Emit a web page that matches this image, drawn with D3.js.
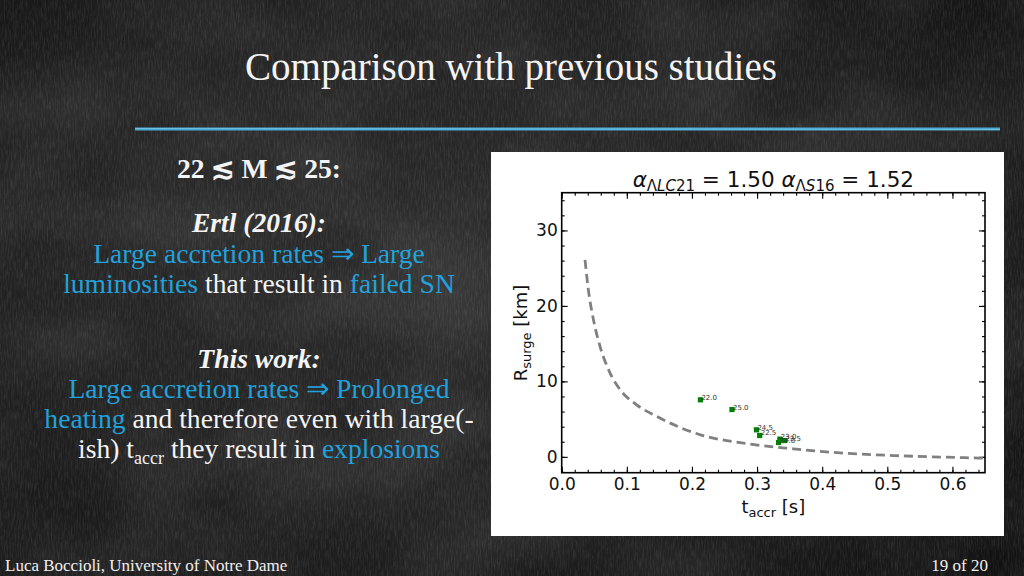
<!DOCTYPE html>
<html>
<head>
<meta charset="utf-8">
<script src="https://cdn.jsdelivr.net/npm/d3@7"></script>
<style>
html,body{margin:0;padding:0;background:#222;}
svg{display:block;}
</style>
</head>
<body>
<svg id="c" width="1024" height="576"></svg>
<script>
// ---------- data ----------
const masses = ["22.0","25.0","24.5","22.5","23.0","23.5","24.0"];
const tAccr  = [0.213, 0.2615, 0.299, 0.304, 0.335, 0.342, 0.333];
const rSurge = [7.56, 6.27, 3.58, 2.83, 2.35, 2.16, 1.90];

const fitT = [0.0358,0.041,0.0487,0.059,0.0743,0.0897,0.115,0.146,0.213,0.279,0.356,0.433,0.51,0.587,0.643,0.65];
const fitR = [26.1,22.1,18.2,14.6,11.1,8.9,6.9,5.35,2.92,1.82,1.06,0.49,0.17,-0.04,-0.17,-0.19];

const xMajor = [0,0.1,0.2,0.3,0.4,0.5,0.6];
const yMajor = [0,10,20,30];
const xMinor = d3.range(0,0.651,0.02);
const yMinor = d3.range(-2,35.1,2);

// ---------- slide ----------
const svg = d3.select("#c");
const defs = svg.append("defs");
const rg = defs.append("radialGradient").attr("id","vig").attr("cx","45%").attr("cy","45%").attr("r","75%");
rg.append("stop").attr("offset","0%").attr("stop-color","#2c2c2c");
rg.append("stop").attr("offset","60%").attr("stop-color","#222222");
rg.append("stop").attr("offset","100%").attr("stop-color","#111111");
const f = defs.append("filter").attr("id","chalk").attr("x",0).attr("y",0).attr("width","100%").attr("height","100%");
f.append("feTurbulence").attr("type","fractalNoise").attr("baseFrequency","0.7 0.1").attr("numOctaves",3).attr("seed",4);
f.append("feColorMatrix").attr("values","0 0 0 0 1  0 0 0 0 1  0 0 0 0 1  0.9 0 0 0 -0.35");
const f2 = defs.append("filter").attr("id","blot").attr("x",0).attr("y",0).attr("width","100%").attr("height","100%");
f2.append("feTurbulence").attr("type","fractalNoise").attr("baseFrequency","0.008 0.012").attr("numOctaves",2).attr("seed",9);
f2.append("feColorMatrix").attr("values","0 0 0 0 1  0 0 0 0 1  0 0 0 0 1  0.6 0 0 0 -0.22");

svg.append("rect").attr("width",1024).attr("height",576).attr("fill","url(#vig)");
svg.append("rect").attr("width",1024).attr("height",576).attr("filter","url(#blot)").attr("opacity",0.25);
svg.append("rect").attr("width",1024).attr("height",576).attr("filter","url(#chalk)").attr("opacity",0.2);

// title
svg.append("text").attr("x",511).attr("y",80).attr("text-anchor","middle")
  .style("font-family","'Liberation Serif','Times New Roman',serif").style("font-size","39px").attr("fill","#f4f4f4")
  .text("Comparison with previous studies");
// chalk underline
svg.append("line").attr("x1",135).attr("x2",1000).attr("y1",129).attr("y2",129)
  .attr("stroke","#4fb6e2").attr("stroke-width",3).attr("opacity",0.9);
svg.append("line").attr("x1",135).attr("x2",1000).attr("y1",128.5).attr("y2",129.5)
  .attr("stroke","#8fd3f0").attr("stroke-width",1).attr("opacity",0.5);

// left text
const BLUE = "#22a2dc", WHITE = "#f4f4f4";
const serif = "'Liberation Serif','Times New Roman',serif";
const lines = [
  {y:178, bold:true, segs:[["22 ≲ M ≲ 25:",WHITE]]},
  {y:232, bold:true, italic:true, segs:[["Ertl (2016):",WHITE]]},
  {y:263, segs:[["Large accretion rates ⇒ Large",BLUE]]},
  {y:293, segs:[["luminosities",BLUE],[" that result in ",WHITE],["failed SN",BLUE]]},
  {y:368, bold:true, italic:true, segs:[["This work:",WHITE]]},
  {y:398, segs:[["Large accretion rates ⇒ Prolonged",BLUE]]},
  {y:428, segs:[["heating",BLUE],[" and therefore even with large(-",WHITE]]},
  {y:458, segs:[["ish) t",WHITE],["accr",WHITE,"sub"],[" they result in ",WHITE],["explosions",BLUE]]}
];
lines.forEach(l=>{
  const t = svg.append("text").attr("x",259).attr("y",l.y).attr("text-anchor","middle")
    .style("font-family",serif).style("font-size","27.6px")
    .style("font-weight",l.bold?"bold":"normal").style("font-style",l.italic?"italic":"normal");
  l.segs.forEach((s,i)=>{
    const ts = t.append("tspan").attr("fill",s[1]).text(s[0]);
    if(s[2]==="sub"){ ts.style("font-size","18px").attr("dy",6); }
    else if(i>0 && l.segs[i-1][2]==="sub"){ ts.attr("dy",-6); }
  });
});

// footer
svg.append("text").attr("x",5).attr("y",571).style("font-family",serif).style("font-size","17px")
  .attr("fill","#f0f0f0").text("Luca Boccioli, University of Notre Dame");
svg.append("text").attr("x",988).attr("y",571).attr("text-anchor","end").style("font-family",serif).style("font-size","17px")
  .attr("fill","#f0f0f0").text("19 of 20");

// ---------- chart panel ----------
svg.append("rect").attr("x",491).attr("y",152).attr("width",513).attr("height",384).attr("fill","#ffffff");

const L=561.7, R=985, T=192.7, B=472.7;
const x = d3.scaleLinear().domain([0,0.65]).range([L,R]);
const y = d3.scaleLinear().domain([-2.1,35]).range([B,T]);
const g = svg.append("g");
const sans = "'DejaVu Sans',sans-serif";

function styleAxis(sel){
  sel.select(".domain").remove();
  sel.selectAll("line").attr("stroke","#000").attr("stroke-width",1.1);
  sel.selectAll("text").style("font-family",sans).style("font-size","17px").attr("fill","#111");
}
// minor ticks
g.append("g").attr("transform",`translate(0,${B})`).call(d3.axisBottom(x).tickValues(xMinor).tickSize(-3).tickFormat("")).call(styleAxis);
g.append("g").attr("transform",`translate(0,${T})`).call(d3.axisTop(x).tickValues(xMinor).tickSize(-3).tickFormat("")).call(styleAxis);
g.append("g").attr("transform",`translate(${L},0)`).call(d3.axisLeft(y).tickValues(yMinor).tickSize(-3).tickFormat("")).call(styleAxis);
g.append("g").attr("transform",`translate(${R},0)`).call(d3.axisRight(y).tickValues(yMinor).tickSize(-3).tickFormat("")).call(styleAxis);
// major ticks
g.append("g").attr("transform",`translate(0,${B})`).call(d3.axisBottom(x).tickValues(xMajor).tickSize(-6).tickPadding(5).tickFormat(d3.format(".1f"))).call(styleAxis);
g.append("g").attr("transform",`translate(0,${T})`).call(d3.axisTop(x).tickValues(xMajor).tickSize(-6).tickFormat("")).call(styleAxis);
g.append("g").attr("transform",`translate(${L},0)`).call(d3.axisLeft(y).tickValues(yMajor).tickSize(-6).tickPadding(4).tickFormat(d3.format("d"))).call(styleAxis);
g.append("g").attr("transform",`translate(${R},0)`).call(d3.axisRight(y).tickValues(yMajor).tickSize(-6).tickFormat("")).call(styleAxis);

// fit curve
const line = d3.line().x((d,i)=>x(fitT[i])).y((d,i)=>y(fitR[i])).curve(d3.curveMonotoneX);
g.append("path").datum(fitR).attr("d",line).attr("fill","none").attr("stroke","#808080")
  .attr("stroke-width",2.8).attr("stroke-dasharray","9,5");

// points
g.selectAll("rect.pt").data(masses).enter().append("rect").attr("class","pt")
  .attr("x",(d,i)=>x(tAccr[i])-2.6).attr("y",(d,i)=>y(rSurge[i])-2.6)
  .attr("width",5.2).attr("height",5.2).attr("fill","#008000");
g.selectAll("text.lab").data(masses).enter().append("text").attr("class","lab")
  .attr("x",(d,i)=>x(tAccr[i])+1).attr("y",(d,i)=>y(rSurge[i]))
  .style("font-family",sans).style("font-size","7px").attr("fill","#333").text(d=>d);

// frame
g.append("rect").attr("x",L).attr("y",T).attr("width",R-L).attr("height",B-T)
  .attr("fill","none").attr("stroke","#000").attr("stroke-width",1.6);

// axis labels
const xl = svg.append("text").attr("x",(L+R)/2).attr("y",513).attr("text-anchor","middle")
  .style("font-family",sans).style("font-size","18px").attr("fill","#111");
xl.append("tspan").text("t");
xl.append("tspan").text("accr").style("font-size","13px").attr("dy",4);
xl.append("tspan").text(" [s]").attr("dy",-4);

const yl = svg.append("text").attr("transform","translate(527,333) rotate(-90)").attr("text-anchor","middle")
  .style("font-family",sans).style("font-size","18px").attr("fill","#111");
yl.append("tspan").text("R");
yl.append("tspan").text("surge").style("font-size","13px").attr("dy",4);
yl.append("tspan").text(" [km]").attr("dy",-4);

// chart title
const tt = svg.append("text").attr("x",(L+R)/2).attr("y",187).attr("text-anchor","middle")
  .style("font-family",sans).style("font-size","21.5px").attr("fill","#111");
tt.append("tspan").text("α").style("font-style","italic");
tt.append("tspan").text("Λ").style("font-size","15px").attr("dy",4);
tt.append("tspan").text("LC").style("font-size","15px").style("font-style","italic");
tt.append("tspan").text("21").style("font-size","15px");
tt.append("tspan").text(" = 1.50 ").attr("dy",-4);
tt.append("tspan").text("α").style("font-style","italic");
tt.append("tspan").text("Λ").style("font-size","15px").attr("dy",4);
tt.append("tspan").text("S").style("font-size","15px").style("font-style","italic");
tt.append("tspan").text("16").style("font-size","15px");
tt.append("tspan").text(" = 1.52").attr("dy",-4);
</script>
</body>
</html>
